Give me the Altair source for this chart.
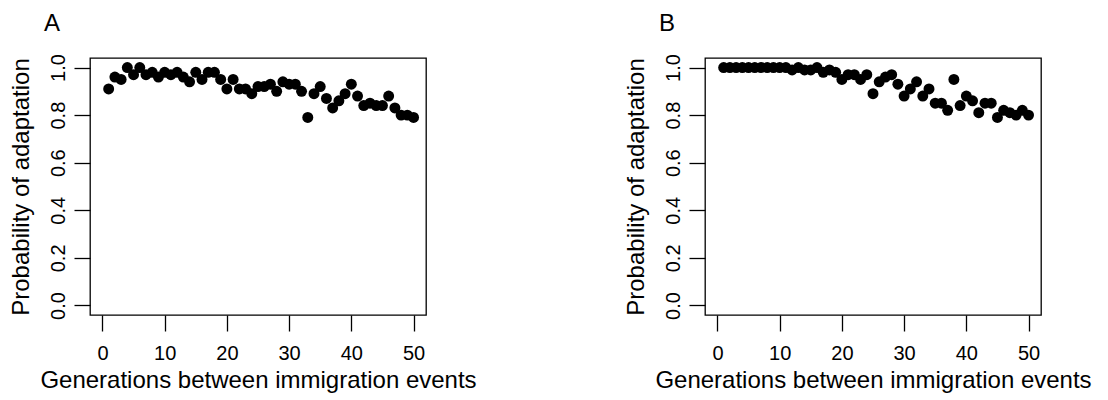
import altair as alt
import pandas as pd

gens = list(range(1, 51))
prob_a = [0.91, 0.96, 0.95, 1.00, 0.97, 1.00, 0.97, 0.98, 0.96, 0.98,
          0.97, 0.98, 0.96, 0.94, 0.98, 0.95, 0.98, 0.98, 0.95, 0.91,
          0.95, 0.91, 0.91, 0.89, 0.92, 0.92, 0.93, 0.90, 0.94, 0.93,
          0.93, 0.90, 0.79, 0.89, 0.92, 0.87, 0.83, 0.86, 0.89, 0.93,
          0.88, 0.84, 0.85, 0.84, 0.84, 0.88, 0.83, 0.80, 0.80, 0.79]
prob_b = [1.00, 1.00, 1.00, 1.00, 1.00, 1.00, 1.00, 1.00, 1.00, 1.00,
          1.00, 0.99, 1.00, 0.99, 0.99, 1.00, 0.98, 0.99, 0.98, 0.95,
          0.97, 0.97, 0.95, 0.97, 0.89, 0.94, 0.96, 0.97, 0.93, 0.88,
          0.91, 0.94, 0.88, 0.91, 0.85, 0.85, 0.82, 0.95, 0.84, 0.88,
          0.86, 0.81, 0.85, 0.85, 0.79, 0.82, 0.81, 0.80, 0.82, 0.80]
x_ticks = [0, 10, 20, 30, 40, 50]
y_ticks = [0.0, 0.2, 0.4, 0.6, 0.8, 1.0]
panel_labels = ["A", "B"]
x_title = "Generations between immigration events"
y_title = "Probability of adaptation"

FONT = "Liberation Sans"
W, H = 336, 257


def panel(values, label):
    df = pd.DataFrame({"g": gens, "p": values})
    pts = alt.Chart(df).mark_circle(size=120, color="black", opacity=1).encode(
        x=alt.X("g:Q",
                scale=alt.Scale(domain=[-2, 52], nice=False, zero=False),
                axis=alt.Axis(values=x_ticks, format="d", title=x_title,
                              labelAngle=0, labelBaseline="alphabetic",
                              labelAlign="center", labelPadding=28,
                              titleX=W / 2, titleY=72, titleAlign="center",
                              titleBaseline="alphabetic")),
        y=alt.Y("p:Q",
                scale=alt.Scale(domain=[-0.04, 1.04], nice=False, zero=False),
                axis=alt.Axis(values=y_ticks, format=".1f", title=y_title,
                              labelAngle=270, labelAlign="center",
                              labelBaseline="alphabetic", labelPadding=10,
                              titleAngle=270, titleX=-62, titleY=H / 2,
                              titleAlign="center", titleBaseline="alphabetic")),
    )
    lab = alt.Chart(pd.DataFrame({"t": [label]})).mark_text(
        align="left", baseline="alphabetic", fontSize=24, font=FONT, color="black"
    ).encode(text="t:N", x=alt.value(-46), y=alt.value(-27))
    return alt.layer(pts, lab).properties(width=W, height=H)


chart = alt.hconcat(
    panel(prob_a, panel_labels[0]),
    panel(prob_b, panel_labels[1]),
    spacing=279,
    bounds="flush",
).properties(
    padding={"left": 0, "top": 3, "right": 5, "bottom": 5},
    background="white",
).configure_view(
    stroke="black", strokeWidth=1.3
).configure_axis(
    domain=False, grid=False,
    tickColor="black", tickSize=16, tickWidth=1.3,
    labelFont=FONT, labelFontSize=20, labelColor="black",
    titleFont=FONT, titleFontSize=24, titleFontWeight="normal", titleColor="black",
)

chart.save("out.html", embed_options={"renderer": "svg", "actions": False})
